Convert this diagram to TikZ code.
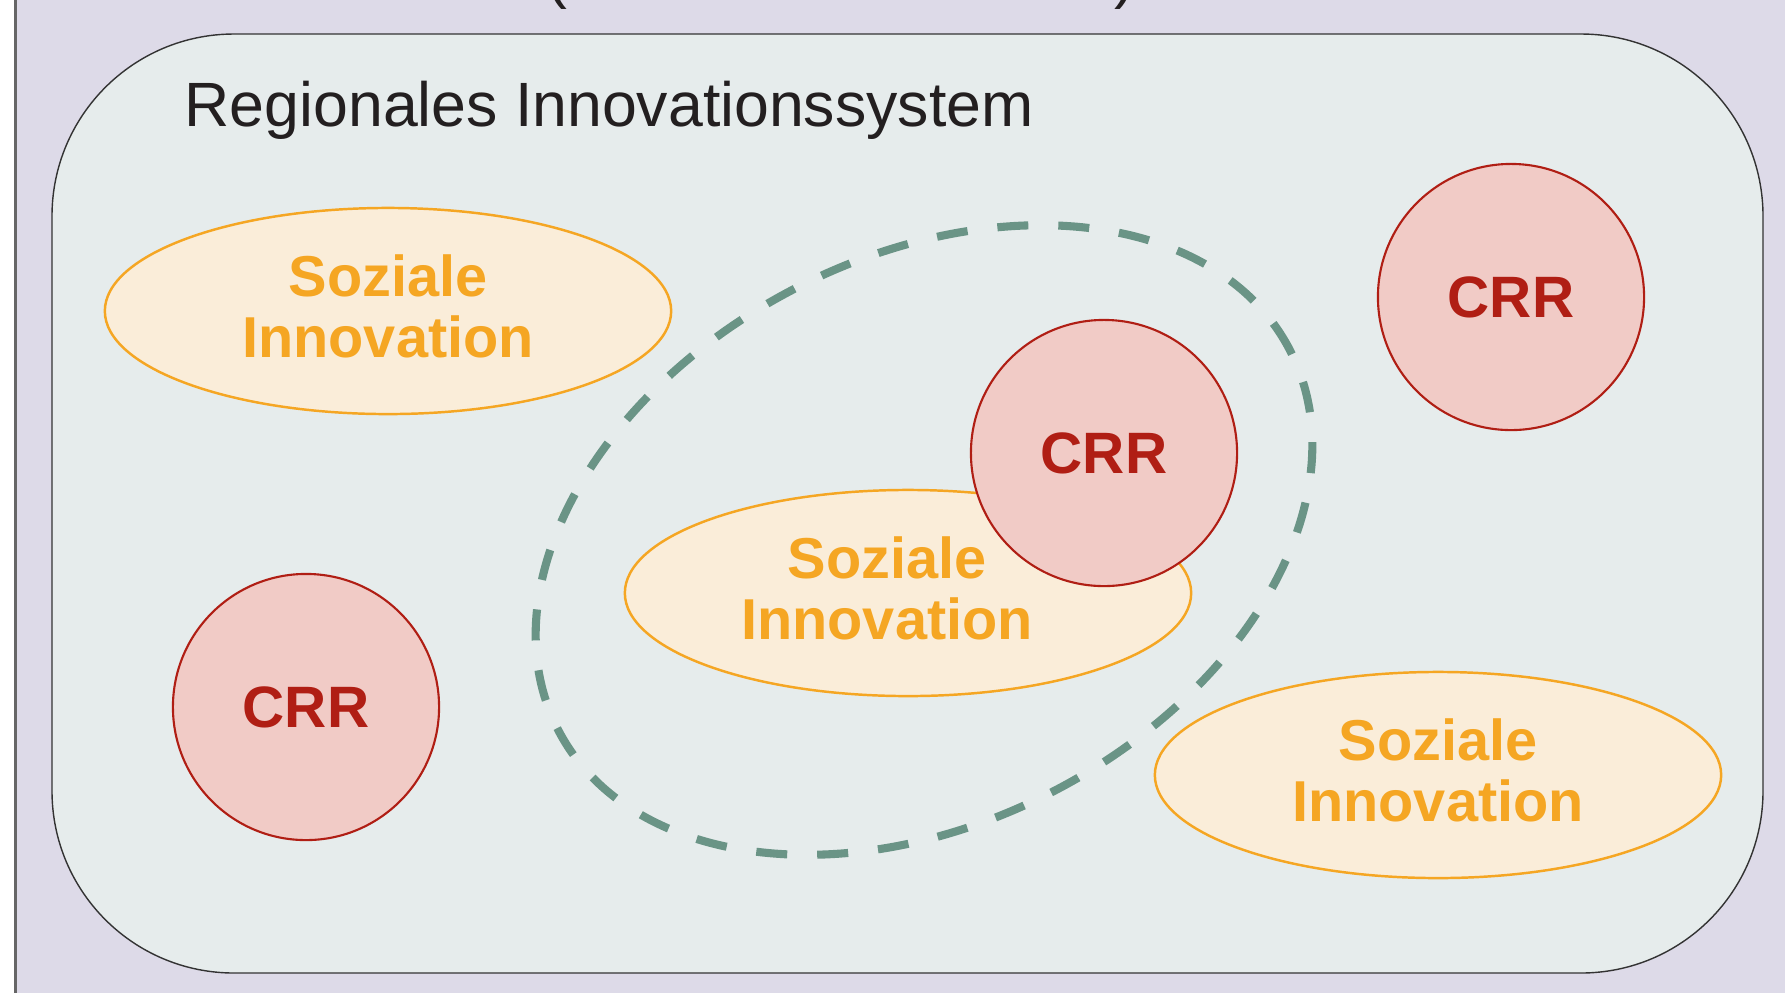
\documentclass[tikz,border=0pt]{standalone}
\usepackage{fontspec}
\setmainfont{Liberation Sans}
\usetikzlibrary{shapes.geometric}

\definecolor{pagebg}{HTML}{DDDAE8}
\definecolor{systembg}{HTML}{E6ECEC}
\definecolor{titletext}{HTML}{231F20}
\definecolor{sozfill}{HTML}{FAEDD9}
\definecolor{sozline}{HTML}{F5A623}
\definecolor{crrfill}{HTML}{F1CBC6}
\definecolor{crrline}{HTML}{B01E14}
\definecolor{clusterline}{HTML}{6A9486}

\tikzset{
  soztext/.style={inner sep=0pt, align=center, text depth=0.1cm,
    text=sozline, font=\fontsize{16.4}{17.4}\selectfont\bfseries},
  soziale/.style={soztext, ellipse, draw=sozline, line width=0.7pt,
    fill=sozfill, minimum width=5.66cm, minimum height=2.06cm},
  crr/.style={circle, draw=crrline, line width=0.6pt, fill=crrfill,
    minimum size=2.66cm, inner sep=0pt, text=crrline,
    font=\fontsize{16.6}{20}\selectfont\bfseries},
  cluster/.style={ellipse, draw=clusterline, line width=2.3pt,
    dash pattern=on 0.31cm off 0.30cm, minimum width=8.24cm,
    minimum height=5.65cm, inner sep=0pt, rotate=27.5},
  titel/.style={inner sep=0pt, text=titletext,
    font=\fontsize{17.8}{21}\selectfont}
}

\begin{document}
\begin{tikzpicture}[x=0.01cm, y=-0.01cm]
    \useasboundingbox (0,0) rectangle (1785,993);
    \fill[white] (0,0) rectangle (1785,993);
    \fill[pagebg] (16,0) rectangle (1785,993);
    \draw[black!60, line width=0.6pt] (15.5,0) -- (15.5,993);

    % Klammern der abgeschnittenen Zeile darueber
    \node[titel, anchor=base west] (KL) at (546,-4) {(};
    \node[titel, anchor=base west] (KR) at (1114,-4) {)};

    % Regionales Innovationssystem
    \draw[black!80, line width=0.4pt, fill=systembg, rounded corners=1.82cm]
      (52,34) rectangle (1763,973);
    \node[titel, anchor=base west] (RIS) at (184,126) {Regionales Innovationssystem};

    \node[soziale] (S1) at (388,311) {Soziale\\Innovation};
    \node[soziale] (S2) at (908,593) {};
    \node[soztext] (S2T) at (887,593) {Soziale\\Innovation};
    \node[soziale] (S3) at (1438,775) {Soziale\\Innovation};

    \node[crr] (C1) at (1104,453) {CRR};
    \node[crr] (C2) at (1511,297) {CRR};
    \node[crr] (C3) at (306,707) {CRR};

    \node[cluster] (K) at (924,540) {};
  \end{tikzpicture}
\end{document}
